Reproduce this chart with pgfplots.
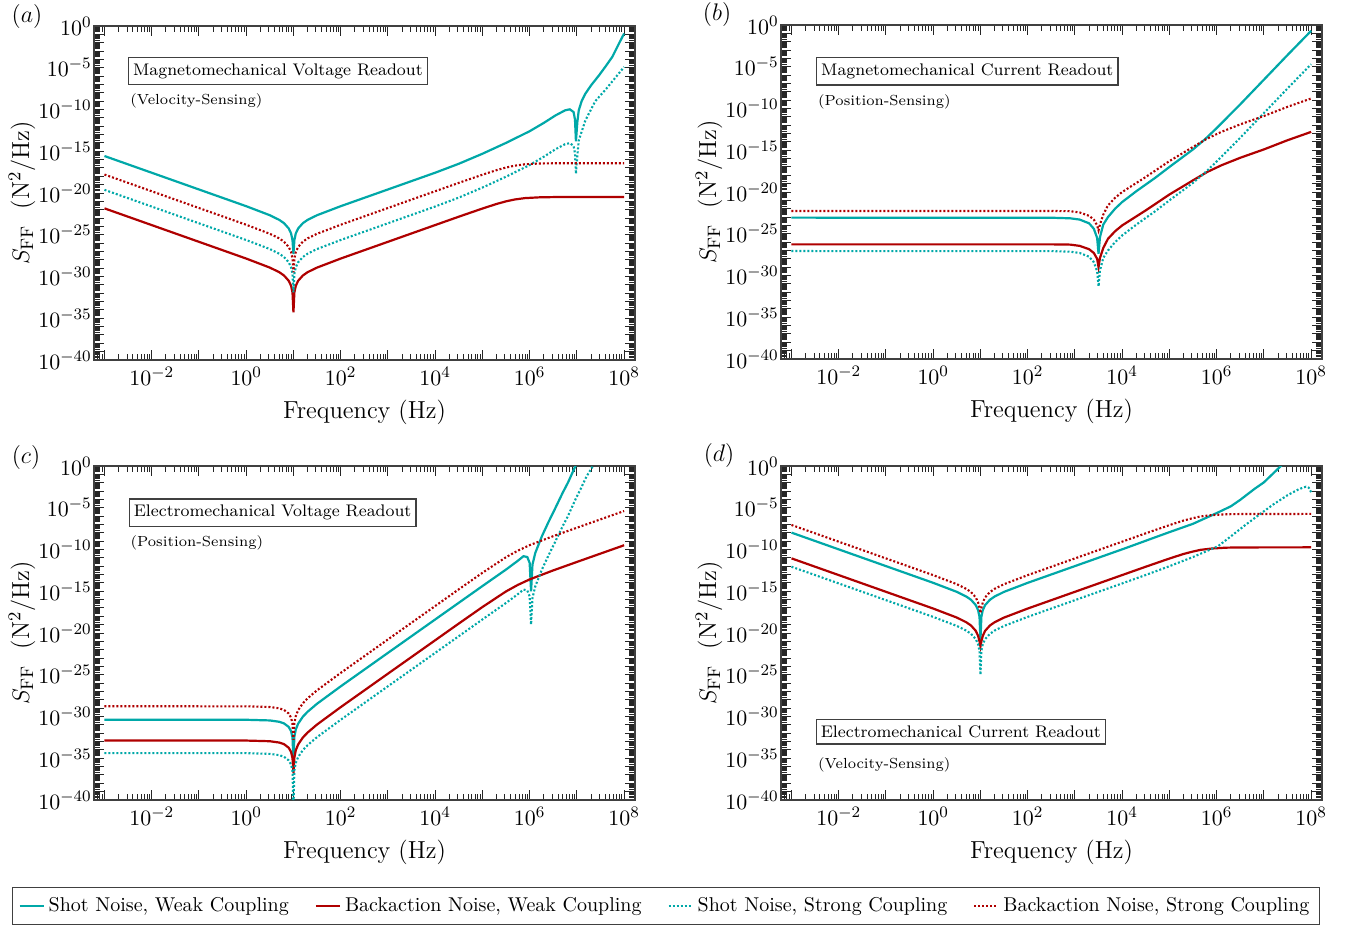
\documentclass[border=0pt]{standalone}
\usepackage{pgfplots}
\pgfplotsset{compat=1.18}
\definecolor{shot}{RGB}{0,168,168}
\definecolor{back}{RGB}{175,0,0}
\pgfplotsset{
  every axis/.append style={
    width=270.5pt, height=167pt, scale only axis,
    xmode=log, ymode=log,
    xmin=6e-4, xmax=1.7e8, ymin=1e-40, ymax=1,
    xtick={1e-3,1e-2,1e-1,1,1e1,1e2,1e3,1e4,1e5,1e6,1e7,1e8},
    xticklabels={,$10^{-2}$,,$10^{0}$,,$10^{2}$,,$10^{4}$,,$10^{6}$,,$10^{8}$},
    minor xtick={6e-4,7e-4,8e-4,9e-4,
      2e-3,3e-3,4e-3,5e-3,6e-3,7e-3,8e-3,9e-3,
      2e-2,3e-2,4e-2,5e-2,6e-2,7e-2,8e-2,9e-2,
      0.2,0.3,0.4,0.5,0.6,0.7,0.8,0.9,
      2,3,4,5,6,7,8,9,
      20,30,40,50,60,70,80,90,
      200,300,400,500,600,700,800,900,
      2e3,3e3,4e3,5e3,6e3,7e3,8e3,9e3,
      2e4,3e4,4e4,5e4,6e4,7e4,8e4,9e4,
      2e5,3e5,4e5,5e5,6e5,7e5,8e5,9e5,
      2e6,3e6,4e6,5e6,6e6,7e6,8e6,9e6,
      2e7,3e7,4e7,5e7,6e7,7e7,8e7,9e7},
    ytick={1e-40,1e-39,1e-38,1e-37,1e-36,1e-35,1e-34,1e-33,1e-32,1e-31,
      1e-30,1e-29,1e-28,1e-27,1e-26,1e-25,1e-24,1e-23,1e-22,1e-21,
      1e-20,1e-19,1e-18,1e-17,1e-16,1e-15,1e-14,1e-13,1e-12,1e-11,
      1e-10,1e-9,1e-8,1e-7,1e-6,1e-5,1e-4,1e-3,1e-2,1e-1,1},
    yticklabels={$10^{-40}$,,,,,$10^{-35}$,,,,,$10^{-30}$,,,,,$10^{-25}$,,,,,
      $10^{-20}$,,,,,$10^{-15}$,,,,,$10^{-10}$,,,,,$10^{-5}$,,,,,$10^{0}$},
    major tick length=5pt, minor tick length=2.8pt,
    tick style={black!85, line width=0.5pt},
    axis line style={black!75, line width=0.8pt},
    tick label style={font=\fontsize{10.8}{13}\selectfont},
    yticklabel style={inner xsep=1pt},
    label style={font=\fontsize{12.3}{14}\selectfont},
    xlabel={Frequency (Hz)},
    ylabel={$S_{\mathrm{FF}}$\ \ (N$^2$/Hz)},
    xlabel style={at={(axis description cs:0.5,-0.156)}, anchor=center},
    ylabel style={at={(axis description cs:-0.133,0.5)}, anchor=center},
  },
}
\tikzset{
  sw/.style={shot, line width=1.1pt},
  bw/.style={back, line width=1.1pt},
  ss/.style={shot, line width=1.05pt, dash pattern=on 1pt off 1pt},
  bs/.style={back, line width=1.05pt, dash pattern=on 1pt off 1pt},
  tbox/.style={draw=black!75, line width=0.6pt, fill=white, inner xsep=2.3pt, inner ysep=3pt,
    anchor=north west, font=\fontsize{8.4}{10}\selectfont},
  tsub/.style={anchor=west, inner sep=0pt, font=\fontsize{7.3}{9}\selectfont},
}
\begin{document}
\begin{tikzpicture}
\useasboundingbox (0pt,0pt) rectangle (679pt,-465.5pt);

% (a) magnetomechanical voltage readout
\begin{axis}[at={(47pt,-180pt)}, anchor=south west]
\addplot[sw] coordinates {(1e-3,2.69e-16) (1,2.63e-22) (3.16,2.19e-23) (5.01,6.03e-24) (6.31,2.45e-24) (7.94,5.75e-25) (8.91,1.45e-25) (9.55,2.29e-26) (10,5.01e-28) (10.47,2.29e-26) (11.22,1.45e-25) (12.59,5.75e-25) (15.85,2.45e-24) (19.95,6.03e-24) (31.6,2.19e-23) (100,2.63e-22) (1e4,2.69e-18) (3.16e4,3.16e-17) (1e5,5.01e-16) (3.16e5,1e-14) (1e6,2.51e-13) (2e6,2.51e-12) (3.55e6,2e-11) (5.62e6,7.94e-11) (7.08e6,1.05e-10) (8.51e6,5.01e-11) (9.12e6,6.31e-12) (9.55e6,1.58e-14) (1.023e7,3.16e-12) (1.096e7,7.94e-11) (1.26e7,1e-9) (1.514e7,7.94e-9) (2e7,7.94e-8) (2.95e7,1.26e-6) (3.98e7,1.26e-5) (5.62e7,2e-4) (7.94e7,1e-2) (1e8,0.126)};
\addplot[bw] coordinates {(1e-3,1.45e-22) (1,1.41e-28) (3.16,1.17e-29) (5.01,3.31e-30) (6.31,1.32e-30) (7.94,3.09e-31) (8.91,7.76e-32) (9.55,1.23e-32) (10,5.01e-35) (10.47,1.23e-32) (11.22,7.76e-32) (12.59,3.09e-31) (15.85,1.32e-30) (19.95,3.31e-30) (31.6,1.17e-29) (100,1.41e-28) (1e4,1.45e-24) (3.16e4,1.45e-23) (1e5,1.38e-22) (2e5,4.90e-22) (3.16e5,1e-21) (4.79e5,1.66e-21) (7.94e5,2.45e-21) (1.585e6,3.02e-21) (3.16e6,3.24e-21) (1e8,3.31e-21)};
\addplot[ss] coordinates {(1e-3,2.40e-20) (1,2.34e-26) (3.16,1.95e-27) (5.01,5.37e-28) (6.31,2.18e-28) (7.94,5.12e-29) (8.91,1.29e-29) (9.55,2.04e-30) (10,1.26e-32) (10.47,2.04e-30) (11.22,1.29e-29) (12.59,5.12e-29) (15.85,2.18e-28) (19.95,5.37e-28) (31.6,1.95e-27) (100,2.34e-26) (1e4,2.40e-22) (3.16e4,2.82e-21) (1e5,4.46e-20) (3.16e5,8.91e-19) (1e6,2.24e-17) (2e6,2.24e-16) (3.55e6,1.78e-15) (5.62e6,7.07e-15) (7.08e6,9.36e-15) (8.51e6,4.46e-15) (9.12e6,5.62e-16) (9.55e6,2e-18) (1.023e7,3.16e-16) (1.096e7,2e-14) (1.514e7,5.01e-12) (2.45e7,1e-9) (4.07e7,2.51e-8) (6.61e7,7.08e-7) (1e8,1.26e-5)};
\addplot[bs] coordinates {(1e-3,1.63e-18) (1,1.58e-24) (3.16,1.31e-25) (5.01,3.71e-26) (6.31,1.48e-26) (7.94,3.47e-27) (8.91,8.71e-28) (9.55,1.38e-28) (10,3.16e-30) (10.47,1.38e-28) (11.22,8.71e-28) (12.59,3.47e-27) (15.85,1.48e-26) (19.95,3.71e-26) (31.6,1.31e-25) (100,1.58e-24) (1e4,1.63e-20) (3.16e4,1.63e-19) (1e5,1.55e-18) (2e5,5.50e-18) (3.16e5,1.12e-17) (4.79e5,1.86e-17) (7.94e5,2.75e-17) (1.585e6,3.39e-17) (3.16e6,3.64e-17) (1e8,3.71e-17)};
\node[tbox] at (rel axis cs:0.0627,0.907) {Magnetomechanical Voltage Readout};
\node[tsub] at (rel axis cs:0.0664,0.775) {(Velocity-Sensing)};
\end{axis}

% (b) magnetomechanical current readout
\begin{axis}[at={(390.5pt,-179.5pt)}, anchor=south west]
\addplot[sw] coordinates {(1e-3,8.51e-24) (316,8.32e-24) (794,7.08e-24) (1259,5.01e-24) (1995,1.78e-24) (2512,3.98e-25) (2951,3.16e-26) (3162,3.98e-28) (3388,3.98e-26) (3981,1.26e-24) (5012,1e-23) (7079,1e-22) (1e4,6.31e-22) (2e4,1.26e-20) (5.01e4,5.01e-19) (1e5,1e-17) (3.16e5,1.26e-15) (5.62e5,2e-14) (1e6,4.47e-13) (3.16e6,3.16e-10) (1e7,2.82e-7) (3.16e7,2.51e-4) (1e8,0.2)};
\addplot[bw] coordinates {(1e-3,5.37e-27) (316,5.37e-27) (794,5.01e-27) (1259,3.55e-27) (1995,1.41e-27) (2512,5.01e-28) (2951,1e-28) (3162,1e-29) (3388,1.26e-28) (3981,2e-27) (5012,2.51e-26) (7079,2e-25) (1e4,1e-24) (3.16e4,6.31e-23) (1e5,5.01e-21) (3.16e5,2.51e-19) (6.31e5,2.51e-18) (1.26e6,1.58e-17) (3.16e6,1.26e-16) (1e7,1.26e-15) (3.16e7,1.58e-14) (1e8,1.58e-13)};
\addplot[ss] coordinates {(1e-3,8.51e-28) (316,8.32e-28) (794,7.08e-28) (1259,5.01e-28) (1995,1.78e-28) (2512,3.98e-29) (2951,3.16e-30) (3162,5.01e-32) (3388,3.98e-30) (3981,1.26e-28) (5012,1e-27) (7079,1e-26) (1e4,6.31e-26) (2e4,1.26e-24) (5.01e4,5.01e-23) (1e5,1e-21) (3.16e5,1.26e-19) (5.62e5,2e-18) (1e6,4.47e-17) (3.16e6,3.16e-14) (1e7,2.82e-11) (3.16e7,2.51e-8) (1e8,2e-5)};
\addplot[bs] coordinates {(1e-3,5.37e-23) (316,5.37e-23) (794,5.01e-23) (1259,3.55e-23) (1995,1.41e-23) (2512,5.01e-24) (2951,1e-24) (3162,2.51e-25) (3388,1.26e-24) (3981,2e-23) (5012,2.51e-22) (7079,2e-21) (1e4,1e-20) (3.16e4,6.31e-19) (1e5,5.01e-17) (3.16e5,2.51e-15) (6.31e5,2.51e-14) (1.26e6,1.58e-13) (3.16e6,1.26e-12) (1e7,1.26e-11) (3.16e7,1.58e-10) (1e8,1.58e-9)};
\node[tbox] at (rel axis cs:0.0647,0.904) {Magnetomechanical Current Readout};
\node[tsub] at (rel axis cs:0.068,0.770) {(Position-Sensing)};
\end{axis}

% (c) electromechanical voltage readout, carries the shared legend
\begin{axis}[at={(47pt,-400pt)}, anchor=south west,
  legend style={at={(axis description cs:1.0573,-0.3174)}, anchor=center,
    legend columns=4, draw=black!75, line width=0.6pt,
    font=\fontsize{10}{12}\selectfont, inner xsep=3pt, inner ysep=3pt,
    /tikz/every even column/.append style={column sep=11pt}},
  legend cell align=left,
  legend image code/.code={\draw[#1] (0pt,0pt) -- (12pt,0pt);}]
\addplot[sw] coordinates {(1e-3,4.17e-31) (1,4.07e-31) (3.16,3.39e-31) (5.01,2.34e-31) (6.31,1.51e-31) (7.94,5.62e-32) (8.91,1.78e-32) (9.55,3.16e-33) (10,6.31e-36) (10.47,3.80e-33) (11.22,2.82e-32) (12.59,1.41e-31) (15.85,9.55e-31) (19.95,3.72e-30) (31.6,3.39e-29) (100,4.07e-27) (1000,4.17e-23) (1e4,4.17e-19) (1e5,4.17e-15) (3.16e5,3.98e-13) (5.62e5,4.47e-12) (7.41e5,1.58e-11) (8.91e5,1.26e-11) (1e6,2.51e-12) (1.072e6,1e-15) (1.148e6,1.58e-12) (1.318e6,3.98e-11) (1.82e6,3.98e-9) (2.51e6,2e-7) (3.39e6,6.31e-6) (5.01e6,6.31e-4) (6.46e6,1e-2) (9.33e6,1) (1.122e7,7.94)};
\addlegendentry{Shot Noise, Weak Coupling}
\addplot[bw] coordinates {(1e-3,1.35e-33) (1,1.32e-33) (3.16,1.10e-33) (5.01,7.59e-34) (6.31,4.90e-34) (7.94,1.82e-34) (8.91,5.75e-35) (9.55,1.05e-35) (10,1.58e-37) (10.47,1.23e-35) (11.22,9.12e-35) (12.59,4.57e-34) (15.85,3.09e-33) (19.95,1.20e-32) (31.6,1.10e-31) (100,1.32e-29) (1000,1.35e-25) (1e4,1.35e-21) (3.16e4,1.35e-19) (1e5,1.29e-17) (3.16e5,9.55e-16) (5.62e5,5.75e-15) (1e6,2.63e-14) (3.16e6,3.16e-13) (1e7,3.24e-12) (3.16e7,3.24e-11) (1e8,3.24e-10)};
\addlegendentry{Backaction Noise, Weak Coupling}
\addplot[ss] coordinates {(1e-3,4.17e-35) (1,4.07e-35) (3.16,3.39e-35) (5.01,2.34e-35) (6.31,1.51e-35) (7.94,5.62e-36) (8.91,1.78e-36) (9.55,3.16e-37) (10,1e-41) (10.47,3.80e-37) (11.22,2.82e-36) (12.59,1.41e-35) (15.85,9.55e-35) (19.95,3.72e-34) (31.6,3.39e-33) (100,4.07e-31) (1000,4.17e-27) (1e4,4.17e-23) (1e5,4.17e-19) (3.16e5,3.98e-17) (5.62e5,4.47e-16) (7.41e5,1.58e-15) (8.91e5,1.26e-15) (1e6,2.51e-16) (1.072e6,1e-19) (1.148e6,1.58e-16) (1.318e6,3.98e-15) (1.82e6,3.98e-13) (2.51e6,2e-11) (3.39e6,6.31e-10) (5.01e6,6.31e-8) (6.46e6,1e-6) (9.33e6,1e-4) (1.26e7,3.16e-3) (1.585e7,5.01e-2) (2.29e7,1.58)};
\addlegendentry{Shot Noise, Strong Coupling}
\addplot[bs] coordinates {(1e-3,1.70e-29) (1,1.66e-29) (3.16,1.38e-29) (5.01,9.55e-30) (6.31,6.17e-30) (7.94,2.29e-30) (8.91,7.24e-31) (9.55,1.32e-31) (10,1.58e-33) (10.47,1.55e-31) (11.22,1.15e-30) (12.59,5.75e-30) (15.85,3.89e-29) (19.95,1.51e-28) (31.6,1.38e-27) (100,1.66e-25) (1000,1.70e-21) (1e4,1.70e-17) (3.16e4,1.70e-15) (1e5,1.62e-13) (3.16e5,1.20e-11) (5.62e5,7.24e-11) (1e6,3.31e-10) (3.16e6,3.98e-9) (1e7,4.07e-8) (3.16e7,4.07e-7) (1e8,4.07e-6)};
\addlegendentry{Backaction Noise, Strong Coupling}
\node[tbox] at (rel axis cs:0.064,0.903) {Electromechanical Voltage Readout};
\node[tsub] at (rel axis cs:0.067,0.771) {(Position-Sensing)};
\end{axis}

% (d) electromechanical current readout
\begin{axis}[at={(390.5pt,-400pt)}, anchor=south west]
\addplot[sw] coordinates {(1e-3,1.05e-8) (1,1.02e-14) (3.16,8.51e-16) (5.01,2.34e-16) (6.31,9.55e-17) (7.94,2.24e-17) (8.91,5.62e-18) (9.55,8.91e-19) (10,1.58e-21) (10.47,8.91e-19) (11.22,5.62e-18) (12.59,2.24e-17) (15.85,9.55e-17) (19.95,2.34e-16) (31.6,8.51e-16) (100,1.02e-14) (1e4,1.05e-10) (3.16e4,1.12e-9) (1e5,1.2e-8) (3.16e5,1.2e-7) (6.31e5,7.1e-7) (1e6,2.3e-6) (2e6,1.5e-5) (3.16e6,8.9e-5) (6.31e6,1.8e-3) (1e7,1.1e-2) (2.29e7,1) (2.82e7,3.16)};
\addplot[bw] coordinates {(1e-3,8.71e-12) (1,8.51e-18) (3.16,7.08e-19) (5.01,1.95e-19) (6.31,7.94e-20) (7.94,1.86e-20) (8.91,4.68e-21) (9.55,1e-21) (10,2.51e-22) (10.47,1e-21) (11.22,4.68e-21) (12.59,1.86e-20) (15.85,7.94e-20) (19.95,1.95e-19) (31.6,7.08e-19) (100,8.51e-18) (1e4,8.71e-14) (3.16e4,8.71e-13) (1e5,8.32e-12) (2e5,2.95e-11) (3.16e5,5.75e-11) (4.57e5,9.12e-11) (7.94e5,1.32e-10) (1.585e6,1.66e-10) (3.16e6,1.78e-10) (1e8,1.82e-10)};
\addplot[ss] coordinates {(1e-3,8.71e-13) (1,8.51e-19) (3.16,7.08e-20) (5.01,1.95e-20) (6.31,7.94e-21) (7.94,1.86e-21) (8.91,4.68e-22) (9.55,7.41e-23) (10,1e-25) (10.47,7.41e-23) (11.22,4.68e-22) (12.59,1.86e-21) (15.85,7.94e-21) (19.95,1.95e-20) (31.6,7.08e-20) (100,8.51e-19) (1e4,8.71e-15) (3.16e4,8.91e-14) (1e5,1e-12) (3.16e5,1.26e-11) (1.072e6,2.51e-10) (1.95e6,3.39e-9) (3.98e6,7.94e-8) (8.32e6,1.78e-6) (1.585e7,2.51e-5) (3.16e7,3.16e-4) (5.62e7,1.78e-3) (7.76e7,3.31e-3) (8.91e7,2.51e-3) (1e8,7.08e-4)};
\addplot[bs] coordinates {(1e-3,8.71e-8) (1,8.51e-14) (3.16,7.08e-15) (5.01,1.95e-15) (6.31,7.94e-16) (7.94,1.86e-16) (8.91,4.68e-17) (9.55,1e-17) (10,2.51e-18) (10.47,1e-17) (11.22,4.68e-17) (12.59,1.86e-16) (15.85,7.94e-16) (19.95,1.95e-15) (31.6,7.08e-15) (100,8.51e-14) (1e4,8.71e-10) (3.16e4,8.71e-9) (1e5,8.32e-8) (2e5,2.95e-7) (3.16e5,5.75e-7) (4.57e5,9.12e-7) (7.94e5,1.32e-6) (1.585e6,1.66e-6) (3.16e6,1.78e-6) (1e8,1.82e-6)};
\node[tbox] at (rel axis cs:0.064,0.242) {Electromechanical Current Readout};
\node[tsub] at (rel axis cs:0.068,0.105) {(Velocity-Sensing)};
\end{axis}

\node[font=\fontsize{12}{14}\selectfont] at (13.5pt,-8.5pt) {$(a)$};
\node[font=\fontsize{12}{14}\selectfont] at (358.5pt,-7.5pt) {$(b)$};
\node[font=\fontsize{12}{14}\selectfont] at (13pt,-228.5pt) {$(c)$};
\node[font=\fontsize{12}{14}\selectfont] at (359.5pt,-227.5pt) {$(d)$};
\end{tikzpicture}
\end{document}
